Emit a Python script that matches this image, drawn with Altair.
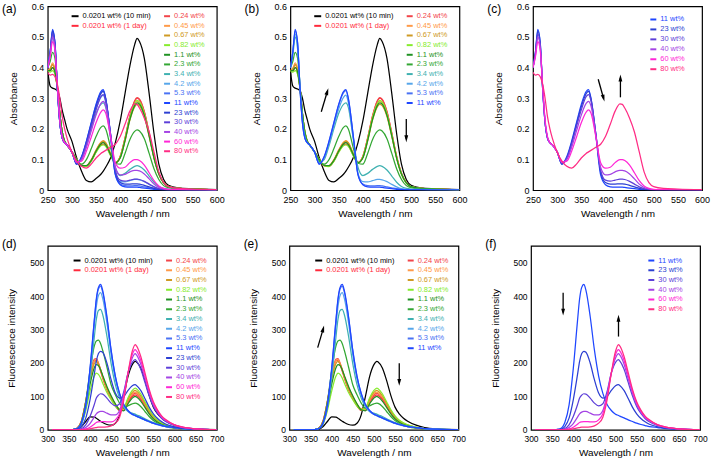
import altair as alt
import pandas as pd

FONT = "Liberation Sans"

series = ["0.0201 wt% (10 min)", "0.0201 wt% (1 day)", "0.24 wt%", "0.45 wt%", "0.67 wt%",
          "0.82 wt%", "1.1 wt%", "2.3 wt%", "3.4 wt%", "4.2 wt%", "5.3 wt%", "11 wt%",
          "23 wt%", "30 wt%", "40 wt%", "60 wt%", "80 wt%"]
colors = ["#000000", "#ff2a3c", "#f2454a", "#ff9a48", "#cf9a24", "#86ec2c", "#1f9222", "#33a733",
          "#3fb1b1", "#56a6ea", "#4a72f4", "#1e46ff", "#2c3fd2", "#5d3fd8", "#a444e4", "#ff26d6", "#ff2c84"]

# ---------------- absorbance (nm) ----------------
abs_wl = [250, 255, 260, 265, 270, 275, 280, 285, 290, 300, 310, 320, 330, 340, 350, 360, 365, 370,
          380, 390, 400, 410, 420, 430, 435, 440, 450, 460, 470, 480, 490, 500, 520, 550, 600]
abs_10min = [0.39, 0.34, 0.333, 0.33, 0.325, 0.30, 0.26, 0.23, 0.20, 0.16, 0.105, 0.062, 0.032, 0.027, 0.038, 0.052, 0.062, 0.075,
             0.105, 0.155, 0.225, 0.315, 0.405, 0.475, 0.495, 0.485, 0.43, 0.315, 0.185, 0.085, 0.035, 0.016, 0.008, 0.005, 0.002]
abs_1day = [0.39, 0.39, 0.40, 0.385, 0.33, 0.25, 0.19, 0.16, 0.148, 0.125, 0.10, 0.08, 0.078, 0.095, 0.125, 0.148, 0.15, 0.145,
            0.115, 0.09, 0.11, 0.17, 0.24, 0.29, 0.30, 0.295, 0.255, 0.185, 0.11, 0.055, 0.025, 0.012, 0.006, 0.004, 0.001]
abs_024 = [0.39, 0.395, 0.41, 0.39, 0.335, 0.25, 0.19, 0.16, 0.148, 0.125, 0.10, 0.08, 0.079, 0.097, 0.128, 0.153, 0.158, 0.152,
           0.118, 0.09, 0.11, 0.17, 0.242, 0.292, 0.302, 0.297, 0.257, 0.187, 0.111, 0.056, 0.025, 0.012, 0.006, 0.004, 0.001]
abs_045 = [0.39, 0.397, 0.415, 0.395, 0.335, 0.25, 0.19, 0.16, 0.148, 0.125, 0.10, 0.081, 0.08, 0.099, 0.131, 0.157, 0.162, 0.155,
           0.12, 0.09, 0.108, 0.165, 0.235, 0.28, 0.29, 0.285, 0.247, 0.18, 0.107, 0.054, 0.024, 0.012, 0.006, 0.004, 0.001]
abs_067 = [0.39, 0.395, 0.41, 0.39, 0.333, 0.25, 0.19, 0.16, 0.148, 0.125, 0.10, 0.081, 0.08, 0.099, 0.13, 0.155, 0.16, 0.154,
           0.12, 0.09, 0.106, 0.16, 0.228, 0.272, 0.28, 0.276, 0.24, 0.175, 0.104, 0.052, 0.024, 0.012, 0.006, 0.004, 0.001]
abs_082 = [0.39, 0.385, 0.39, 0.378, 0.328, 0.25, 0.19, 0.16, 0.148, 0.125, 0.10, 0.08, 0.077, 0.094, 0.123, 0.145, 0.148, 0.143,
           0.113, 0.088, 0.108, 0.166, 0.236, 0.283, 0.293, 0.288, 0.25, 0.182, 0.108, 0.054, 0.024, 0.012, 0.006, 0.004, 0.001]
abs_1p1 = [0.39, 0.39, 0.40, 0.385, 0.33, 0.25, 0.19, 0.16, 0.148, 0.125, 0.10, 0.081, 0.08, 0.097, 0.127, 0.151, 0.155, 0.149,
           0.117, 0.09, 0.105, 0.162, 0.23, 0.276, 0.285, 0.281, 0.244, 0.177, 0.105, 0.053, 0.024, 0.012, 0.006, 0.004, 0.001]
abs_2p3 = [0.40, 0.42, 0.45, 0.43, 0.34, 0.25, 0.185, 0.158, 0.148, 0.125, 0.095, 0.085, 0.10, 0.135, 0.175, 0.205, 0.21, 0.20,
           0.14, 0.088, 0.085, 0.12, 0.165, 0.192, 0.197, 0.193, 0.168, 0.12, 0.07, 0.035, 0.015, 0.008, 0.004, 0.003, 0.001]
abs_3p4 = [0.40, 0.44, 0.50, 0.46, 0.34, 0.23, 0.175, 0.155, 0.147, 0.124, 0.09, 0.10, 0.145, 0.20, 0.25, 0.28, 0.285, 0.27,
           0.17, 0.075, 0.048, 0.055, 0.068, 0.078, 0.08, 0.078, 0.066, 0.046, 0.026, 0.012, 0.006, 0.004, 0.003, 0.002, 0.001]
abs_4p2 = [0.40, 0.45, 0.51, 0.47, 0.335, 0.225, 0.172, 0.155, 0.147, 0.124, 0.087, 0.106, 0.152, 0.21, 0.265, 0.303, 0.31, 0.286,
           0.175, 0.055, 0.028, 0.027, 0.031, 0.035, 0.035, 0.034, 0.028, 0.019, 0.011, 0.005, 0.003, 0.002, 0.002, 0.001, 0.001]
abs_5p3 = [0.40, 0.45, 0.52, 0.48, 0.33, 0.22, 0.17, 0.155, 0.148, 0.125, 0.085, 0.108, 0.158, 0.218, 0.277, 0.318, 0.325, 0.298,
           0.18, 0.052, 0.02, 0.015, 0.014, 0.015, 0.015, 0.014, 0.011, 0.008, 0.005, 0.003, 0.002, 0.001, 0.001, 0.001, 0.0]
abs_11 = [0.40, 0.45, 0.525, 0.48, 0.33, 0.22, 0.17, 0.155, 0.148, 0.125, 0.085, 0.11, 0.16, 0.22, 0.28, 0.322, 0.328, 0.30,
          0.18, 0.05, 0.018, 0.011, 0.01, 0.01, 0.01, 0.009, 0.007, 0.005, 0.003, 0.002, 0.001, 0.001, 0.001, 0.0, 0.0]
abs_23 = [0.40, 0.45, 0.52, 0.48, 0.33, 0.22, 0.17, 0.155, 0.148, 0.125, 0.085, 0.105, 0.155, 0.215, 0.272, 0.315, 0.322, 0.298,
          0.185, 0.06, 0.025, 0.02, 0.02, 0.021, 0.021, 0.02, 0.016, 0.011, 0.006, 0.003, 0.002, 0.001, 0.001, 0.001, 0.0]
abs_30 = [0.40, 0.445, 0.51, 0.47, 0.33, 0.222, 0.17, 0.155, 0.148, 0.125, 0.088, 0.104, 0.15, 0.207, 0.262, 0.305, 0.312, 0.292,
          0.185, 0.065, 0.033, 0.03, 0.033, 0.036, 0.036, 0.035, 0.029, 0.02, 0.011, 0.005, 0.003, 0.002, 0.001, 0.001, 0.0]
abs_40 = [0.40, 0.44, 0.50, 0.465, 0.335, 0.225, 0.172, 0.155, 0.148, 0.125, 0.09, 0.10, 0.14, 0.193, 0.245, 0.283, 0.29, 0.275,
          0.18, 0.075, 0.05, 0.052, 0.06, 0.065, 0.065, 0.063, 0.053, 0.037, 0.02, 0.009, 0.004, 0.002, 0.002, 0.001, 0.0]
abs_60 = [0.40, 0.435, 0.485, 0.455, 0.34, 0.23, 0.175, 0.155, 0.148, 0.125, 0.092, 0.095, 0.127, 0.173, 0.22, 0.255, 0.262, 0.252,
          0.175, 0.09, 0.072, 0.075, 0.09, 0.10, 0.10, 0.097, 0.082, 0.057, 0.031, 0.014, 0.006, 0.003, 0.002, 0.001, 0.0]
abs_80 = [0.385, 0.375, 0.378, 0.37, 0.345, 0.30, 0.24, 0.20, 0.17, 0.125, 0.095, 0.078, 0.072, 0.085, 0.105, 0.12, 0.125, 0.13,
          0.14, 0.15, 0.175, 0.215, 0.258, 0.282, 0.28, 0.268, 0.235, 0.19, 0.125, 0.06, 0.025, 0.012, 0.006, 0.004, 0.002]
abs_all = [abs_10min, abs_1day, abs_024, abs_045, abs_067, abs_082, abs_1p1, abs_2p3, abs_3p4, abs_4p2,
           abs_5p3, abs_11, abs_23, abs_30, abs_40, abs_60, abs_80]

# ---------------- fluorescence (nm) ----------------
fl_wl = [310, 350, 360, 370, 380, 390, 400, 410, 415, 420, 425, 430, 440, 450, 460, 470, 480, 490, 500, 507,
         510, 520, 530, 540, 550, 560, 570, 580, 600, 620, 650, 700]
fl_10min = [0, 0, 0, 2, 10, 25, 39, 38, 35, 30, 26, 22, 16, 14, 20, 45, 100, 160, 195, 205, 203, 185, 148, 103, 68, 48, 35, 26, 14, 7, 3, 1]
fl_1day = [0, 0, 1, 6, 27, 84, 158, 206, 208, 195, 176, 155, 120, 94, 72, 58, 58, 82, 100, 105, 103, 91, 71, 51, 35, 25, 17, 12, 6, 3, 1, 0]
fl_024 = [0, 0, 1, 6, 28, 86, 161, 211, 213, 200, 181, 159, 123, 96, 74, 60, 60, 85, 104, 110, 108, 95, 74, 53, 37, 26, 18, 13, 7, 4, 1, 0]
fl_045 = [0, 0, 1, 6, 27, 84, 158, 207, 210, 198, 180, 159, 124, 97, 75, 61, 62, 88, 108, 113, 111, 98, 77, 55, 38, 27, 19, 14, 7, 4, 1, 0]
fl_067 = [0, 0, 1, 5, 24, 78, 150, 198, 205, 196, 180, 160, 126, 99, 77, 63, 65, 92, 112, 118, 116, 102, 80, 57, 40, 28, 20, 14, 8, 4, 1, 0]
fl_082 = [0, 0, 1, 4, 18, 58, 115, 160, 170, 166, 155, 140, 112, 90, 71, 60, 66, 96, 118, 125, 123, 108, 84, 61, 42, 29, 21, 15, 8, 4, 2, 0]
fl_1p1 = [0, 0, 1, 4, 20, 68, 135, 185, 195, 192, 180, 163, 130, 102, 78, 60, 57, 78, 95, 100, 98, 86, 67, 48, 33, 23, 16, 12, 6, 3, 1, 0]
fl_2p3 = [0, 0, 1, 5, 25, 85, 175, 250, 266, 268, 258, 238, 188, 135, 105, 80, 65, 72, 78, 80, 79, 70, 55, 40, 28, 20, 14, 10, 5, 3, 1, 0]
fl_3p4 = [0, 0, 1, 4, 20, 65, 155, 275, 330, 357, 360, 345, 280, 198, 135, 95, 68, 55, 50, 47, 45, 40, 33, 27, 22, 17, 14, 11, 7, 4, 2, 0]
fl_4p2 = [0, 0, 1, 4, 20, 70, 172, 307, 368, 402, 410, 393, 320, 225, 152, 103, 72, 55, 46, 42, 40, 35, 29, 24, 19, 15, 12, 10, 7, 4, 2, 0]
fl_5p3 = [0, 0, 1, 4, 21, 73, 180, 322, 387, 421, 430, 412, 335, 236, 159, 108, 75, 57, 47, 43, 41, 36, 30, 25, 20, 16, 13, 10, 7, 4, 2, 0]
fl_11 = [0, 0, 1, 4, 22, 74, 183, 326, 392, 426, 435, 417, 339, 239, 161, 109, 76, 58, 47, 43, 41, 36, 30, 25, 20, 16, 13, 10, 7, 4, 2, 0]
fl_23 = [0, 0, 1, 2, 10, 35, 90, 165, 205, 228, 235, 232, 200, 150, 110, 95, 100, 118, 132, 135, 133, 118, 94, 68, 48, 34, 24, 17, 9, 5, 2, 0]
fl_30 = [0, 0, 0, 1, 4, 15, 40, 75, 95, 104, 108, 107, 95, 80, 72, 78, 115, 170, 202, 210, 206, 182, 142, 102, 70, 49, 34, 24, 13, 7, 3, 0]
fl_40 = [0, 0, 0, 0, 2, 7, 19, 38, 48, 53, 55, 55, 50, 45, 45, 58, 105, 170, 215, 228, 224, 197, 153, 110, 75, 53, 37, 27, 14, 7, 3, 0]
fl_60 = [0, 0, 0, 0, 1, 3, 8, 17, 22, 24, 25, 25, 24, 24, 30, 48, 100, 170, 225, 240, 236, 208, 162, 116, 80, 56, 39, 28, 15, 8, 3, 0]
fl_80 = [0, 0, 0, 0, 0, 1, 3, 6, 7, 8, 8, 8, 9, 12, 20, 38, 90, 170, 235, 255, 251, 220, 171, 122, 84, 59, 41, 30, 15, 8, 3, 0]
fl_all = [fl_10min, fl_1day, fl_024, fl_045, fl_067, fl_082, fl_1p1, fl_2p3, fl_3p4, fl_4p2,
          fl_5p3, fl_11, fl_23, fl_30, fl_40, fl_60, fl_80]

abs_ticks = [250, 300, 350, 400, 450, 500, 550, 600]
abs_yticks = [0, 0.1, 0.2, 0.3, 0.4, 0.5, 0.6]
fl_ticks = [300, 350, 400, 450, 500, 550, 600, 650, 700]
fl_yticks = [0, 100, 200, 300, 400, 500]


def long_df(wl, vals_list):
    rows = []
    for s, vals in zip(series, vals_list):
        for w, v in zip(wl, vals):
            rows.append({"series": s, "wl": w, "val": v})
    return pd.DataFrame(rows)


abs_df = long_df(abs_wl, abs_all)
fl_df = long_df(fl_wl, fl_all)

cscale = alt.Scale(domain=series, range=colors)
W, H = 170, 185


def legend_df(left_items, right_items, left_x, right_x, y0, dy):
    rows = []
    for i, s in enumerate(left_items):
        rows.append({"series": s, "lx1": left_x, "lx2": left_x + 7, "tx": left_x + 11, "py": y0 + i * dy})
    for i, s in enumerate(right_items):
        rows.append({"series": s, "lx1": right_x, "lx2": right_x + 6, "tx": right_x + 10, "py": y0 + i * dy})
    return pd.DataFrame(rows)


ARROW = "M0,-1L0.55,1L-0.55,1Z"


def panel(kind, sub, leg, label, label_y, arrows):
    if kind == "abs":
        df = abs_df[abs_df.series.isin(sub)]
        xdom, xt, ydom, yt = [250, 600], abs_ticks, [0, 0.6], abs_yticks
        ytitle, yfmt, lfs = "Absorbance", ".1~f", 9
    else:
        df = fl_df[fl_df.series.isin(sub)]
        xdom, xt, ydom, yt = [300, 700], fl_ticks, [0, 550], fl_yticks
        ytitle, yfmt, lfs = "Fluorescence intensity", "d", 8.5
    xs = alt.Scale(domain=xdom, nice=False, zero=False)
    ys = alt.Scale(domain=ydom, nice=False, zero=False)
    xax = alt.Axis(values=xt, title="Wavelength / nm", labelOverlap=False, labelFontSize=lfs,
                   labelFlush=False, labelPadding=5)
    yax = alt.Axis(values=yt, format=yfmt, title=ytitle, labelOverlap=False, labelFontSize=lfs,
                   labelFlush=False, labelPadding=4)
    lines = alt.Chart(df).mark_line(strokeWidth=1.25, interpolate="monotone", clip=True).encode(
        x=alt.X("wl:Q", scale=xs, axis=xax), y=alt.Y("val:Q", scale=ys, axis=yax),
        color=alt.Color("series:N", scale=cscale, legend=None),
        detail="series:N", order="wl:Q")
    leg_lines = alt.Chart(leg).mark_rule(strokeWidth=2).encode(
        x=alt.X("lx1:Q", scale=None), x2="lx2:Q", y=alt.Y("py:Q", scale=None),
        color=alt.Color("series:N", scale=cscale, legend=None))
    leg_text = alt.Chart(leg).mark_text(align="left", baseline="middle", fontSize=7.5, font=FONT).encode(
        x=alt.X("tx:Q", scale=None), y=alt.Y("py:Q", scale=None), text="series:N",
        color=alt.Color("series:N", scale=cscale, legend=None))
    lab = alt.Chart(pd.DataFrame({"t": [label]})).mark_text(
        align="left", baseline="middle", fontSize=12, font=FONT, color="black").encode(
        text="t:N", x=alt.value(-46), y=alt.value(label_y))
    layers = [lines, leg_lines, leg_text, lab]
    for (x1, y1, x2, y2, ang) in arrows:
        adf = pd.DataFrame({"wl": [x1], "val": [y1], "wl2": [x2], "val2": [y2]})
        shaft = alt.Chart(adf).mark_rule(color="black", strokeWidth=1.3).encode(
            x=alt.X("wl:Q", scale=xs, axis=xax), y=alt.Y("val:Q", scale=ys, axis=yax),
            x2="wl2:Q", y2="val2:Q")
        hdf = pd.DataFrame({"wl": [x2], "val": [y2]})
        head = alt.Chart(hdf).mark_point(shape=ARROW, filled=True, color="black", size=49,
                                         opacity=1, angle=ang, strokeWidth=0).encode(
            x=alt.X("wl:Q", scale=xs, axis=xax), y=alt.Y("val:Q", scale=ys, axis=yax))
        layers += [shaft, head]
    return alt.layer(*layers).properties(width=W, height=H)


a_leg = legend_df(series[:2], series[2:], 24, 117, 10, 9.7)
b_leg = legend_df(series[:2], series[2:12], 24, 117, 10, 9.7)
c_leg = legend_df([], series[11:], 0, 118, 13.3, 10)
d_leg = legend_df(series[:2], series[2:], 26, 119, 14.7, 9.8)
e_leg = legend_df(series[:2], series[2:12], 26, 119, 14.7, 9.8)
f_leg = legend_df([], series[11:], 0, 118, 14.7, 9.8)

pa = panel("abs", series, a_leg, "(a)", 2.5, [])
pb = panel("abs", series[:12], b_leg, "(b)", 2.5,
           [(314, 0.256, 326.5, 0.322, 17), (490, 0.232, 490, 0.168, 180)])
pc = panel("abs", series[11:], c_leg, "(c)", 2.5,
           [(385, 0.362, 396, 0.30, 165), (431, 0.303, 431, 0.366, 0)])
pd_ = panel("fl", series, d_leg, "(d)", -2, [])
pe = panel("fl", series[:12], e_leg, "(e)", -2,
           [(367, 246, 380, 302, 15), (560, 199, 560, 142, 180)])
pf = panel("fl", series[11:], f_leg, "(f)", -2,
           [(376, 410, 376, 352, 180), (507, 279, 507, 334, 0)])

row1 = alt.hconcat(pa, pb, pc, spacing=18)
row2 = alt.hconcat(pd_, pe, pf, spacing=18)

chart = alt.vconcat(row1, row2, spacing=18).properties(
    padding={"left": 1, "top": 0, "right": 0, "bottom": 0}
).configure_view(stroke="black", strokeWidth=1.2).configure_axis(
    grid=False, domain=False, ticks=False, labelFont=FONT, titleFont=FONT,
    titleFontSize=10, titleFontWeight="normal",
    labelColor="black", titleColor="black"
).configure_axisX(titlePadding=4).configure_axisY(titlePadding=13)

chart.save("out.html", embed_options={"renderer": "svg", "actions": False})
